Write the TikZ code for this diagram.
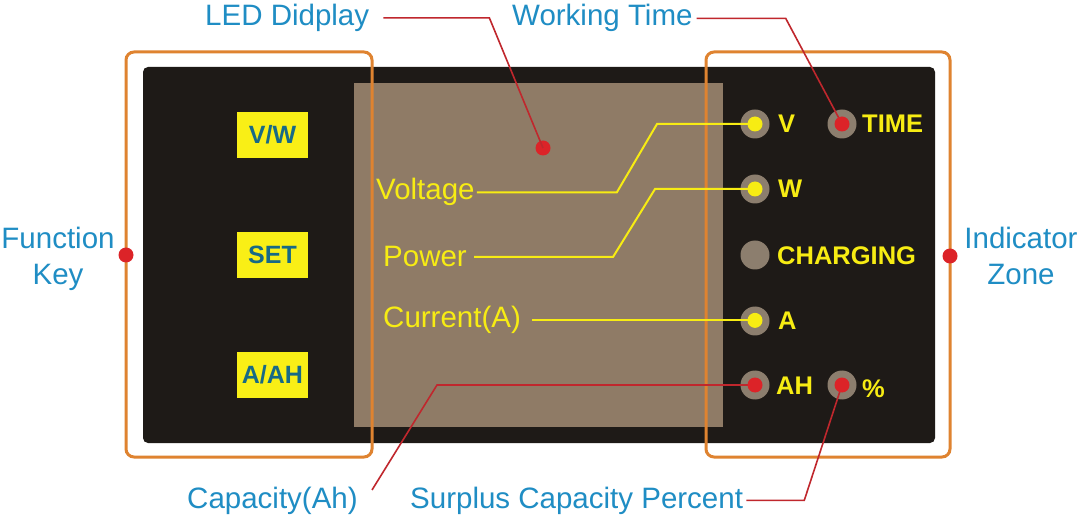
\documentclass[tikz,border=0pt]{standalone}
\usepackage{fontspec}
\setmainfont{Liberation Sans}
\definecolor{panel}{HTML}{1E1A17}
\definecolor{lcd}{HTML}{8F7B66}
\definecolor{frame}{HTML}{DF8330}
\definecolor{ledgrey}{HTML}{8C7E6E}
\definecolor{ylw}{HTML}{F7EC13}
\definecolor{keyylw}{HTML}{F9EF16}
\definecolor{dotred}{HTML}{DC2328}
\definecolor{linered}{HTML}{C0272D}
\definecolor{blu}{HTML}{1F8DC4}
\definecolor{tealtxt}{HTML}{176A86}
\begin{document}
\begin{tikzpicture}[x=1pt,y=-1pt,
  lbl/.style={text=blu,font=\fontsize{29.5}{36}\selectfont,inner sep=0pt},
  ylbl/.style={text=ylw,font=\fontsize{29.5}{36}\selectfont,inner sep=0pt,anchor=base west},
  keybox/.style={fill=keyylw,minimum width=71pt,minimum height=46pt,inner sep=0pt,
    text=tealtxt,font=\bfseries\fontsize{25}{30}\selectfont},
  ledring/.style={circle,fill=ledgrey,minimum size=29pt,inner sep=0pt},
  ledlbl/.style={text=ylw,font=\bfseries\fontsize{25.5}{30}\selectfont,inner sep=0pt,anchor=base west},
  reddot/.style={circle,fill=dotred,minimum size=15pt,inner sep=0pt},
  framebox/.style={draw=frame,line width=3pt,rounded corners=8pt},
  yline/.style={draw=ylw,line width=2pt},
  rline/.style={draw=linered,line width=1.6pt},
]
\useasboundingbox[fill=white] (0,0) rectangle (1082,521);
% panel and display
\fill[panel,rounded corners=5pt] (143,67) rectangle (935,443);
\fill[lcd] (354,83) rectangle (723,427);
% frames
\draw[framebox] (126,52) rectangle (372,457);
\draw[framebox] (706,52) rectangle (950,457);
\node[reddot] (dFK) at (126,255) {};
\node[reddot] (dIZ) at (950,256) {};
% keys
\node[keybox] (kVW) at (272.5,135) {V/W};
\node[keybox] (kSET) at (272.5,255) {SET};
\node[keybox] (kAAH) at (272.5,375) {A/AH};
% LEDs
\node[ledring] (ledV) at (755,124) {};
\node[ledring] (ledT) at (842,124) {};
\node[ledring] (ledW) at (755,189) {};
\node[ledring] (ledC) at (755,255) {};
\node[ledring] (ledA) at (755,321) {};
\node[ledring] (ledAH) at (755,385) {};
\node[ledring] (ledP) at (842,385) {};
% LED labels
\node[ledlbl] (lV) at (778,133) {V};
\node[ledlbl] (lT) at (862,133) {TIME};
\node[ledlbl] (lW) at (778,198) {W};
\node[ledlbl] (lC) at (777,264.5) {CHARGING};
\node[ledlbl] (lA) at (778,330) {A};
\node[ledlbl] (lAH) at (776,394) {AH};
\node[ledlbl] (lP) at (862,397) {\%};
% yellow labels
\node[ylbl] (tV) at (376,200) {Voltage};
\node[ylbl] (tP) at (383,267) {Power};
\node[ylbl] (tC) at (383,328) {Current(A)};
\draw[yline] ([xshift=2pt]tV.east) -- ++(140,0) -- (657,124) -- (ledV.center);
\draw[yline] ([xshift=7pt]tP.east) -- ++(139,0) -- (655,189) -- (ledW.center);
\draw[yline] ([xshift=11pt]tC.east) -- (tC.east -| ledA.center);
% blue labels
\node[lbl,anchor=base west] (tLED) at (205,25.5) {LED Didplay};
\node[lbl,anchor=base west] (tWT) at (512,26) {Working Time};
\node[lbl,anchor=base west] (tCap) at (187,508) {Capacity(Ah)};
\node[lbl,anchor=base west] (tSur) at (410,508) {Surplus Capacity Percent};
\node[lbl,align=center] (tFK) at (58,258.5) {Function\\Key};
\node[lbl,align=center] (tIZ) at (1021,255.5) {Indicator\\Zone};
% red leaders
\node[reddot] (dLCD) at (543,148) {};
\coordinate (capEnd) at (372,490);
\draw[rline] ([xshift=14pt]tLED.east) -- ++(106,0) -- (dLCD.center);
\draw[rline] ([xshift=4pt]tWT.east) -- ++(89,0) -- (ledT.center);
\draw[rline] (capEnd) -- (437,385) -- (ledAH.center);
\draw[rline] ([xshift=3pt]tSur.east) -- ++(58,0) -- (ledP.center);
% inner LED dots
\fill[ylw] (ledV) circle (7.5pt);
\fill[ylw] (ledW) circle (7.5pt);
\fill[ylw] (ledA |- tC.east) circle (7.5pt);
\fill[dotred] (ledT) circle (7.5pt);
\fill[dotred] (ledAH) circle (7.5pt);
\fill[dotred] (ledP) circle (7.5pt);
\end{tikzpicture}
\end{document}
